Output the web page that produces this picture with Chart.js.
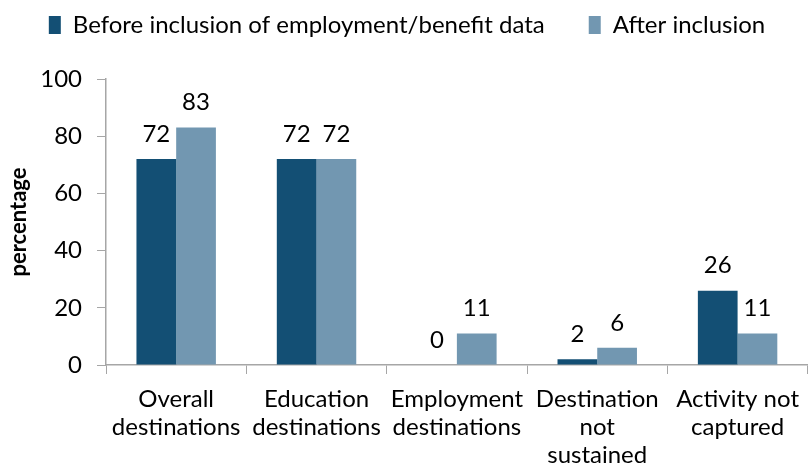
<!DOCTYPE html>
<html>
<head>
<meta charset="utf-8">
<script src="https://cdn.jsdelivr.net/npm/chart.js@4/dist/chart.umd.min.js"></script>
<style>
  html, body { margin: 0; padding: 0; background: #ffffff; }
  #wrap { width: 810px; height: 473px; position: relative; }
</style>
</head>
<body>
<div id="wrap"><canvas id="c"></canvas></div>
<script>
// Destination categories (multi-line labels)
const categories = [
  ["Overall", "destinations"],
  ["Education", "destinations"],
  ["Employment", "destinations"],
  ["Destination", "not", "sustained"],
  ["Activity not", "captured"]
];
const seriesNames = ["Before inclusion of employment/benefit data", "After inclusion"];
const beforeValues = [72, 72, 0, 2, 26];
const afterValues = [83, 72, 11, 6, 11];
const yTicks = [0, 20, 40, 60, 80, 100];

const FONT = "Lato, 'Open Sans', sans-serif";
const AXIS_GREY = "#a6a6a6";

// Draws each bar's value just above its top
const valueLabels = {
  id: "valueLabels",
  afterDatasetsDraw(chart) {
    const ctx = chart.ctx;
    ctx.save();
    ctx.font = "24px " + FONT;
    ctx.fillStyle = "#000000";
    ctx.textAlign = "center";
    ctx.textBaseline = "bottom";
    chart.data.datasets.forEach((ds, i) => {
      chart.getDatasetMeta(i).data.forEach((bar, j) => {
        ctx.fillText(String(ds.data[j]), bar.x, bar.y - 13);
      });
    });
    ctx.restore();
  }
};

// Leaves extra room between the legend and the plot area
const legendSpacing = {
  id: "legendSpacing",
  beforeLayout(chart) {
    const legend = chart.legend;
    if (legend && !legend._spaced) {
      const fit = legend.fit;
      legend.fit = function () {
        fit.call(this);
        this.height += 32;
      };
      legend._spaced = true;
    }
  }
};

new Chart(document.getElementById("c"), {
  type: "bar",
  data: {
    labels: categories,
    datasets: [
      { label: seriesNames[0], data: beforeValues, backgroundColor: "#134f74" },
      { label: seriesNames[1], data: afterValues, backgroundColor: "#7297b1" }
    ]
  },
  options: {
    responsive: true,
    maintainAspectRatio: false,
    animation: false,
    layout: { padding: { top: -31, right: -4, bottom: 0, left: 0 } },
    datasets: { bar: { categoryPercentage: 0.566, barPercentage: 1.0 } },
    plugins: {
      legend: {
        position: "top",
        labels: {
          font: { family: FONT, size: 24 },
          color: "#000000",
          boxWidth: 12,
          boxHeight: 18,
          padding: 44
        }
      },
      tooltip: { enabled: false }
    },
    scales: {
      x: {
        afterFit(scale) { scale.height = 108; },
        grid: {
          offset: true,
          drawOnChartArea: false,
          drawTicks: true,
          tickLength: 9,
          color: AXIS_GREY
        },
        border: { color: AXIS_GREY, width: 1.5 },
        ticks: {
          font: { family: FONT, size: 24, lineHeight: 1.17 },
          color: "#000000",
          maxRotation: 0,
          autoSkip: false,
          padding: 11
        }
      },
      y: {
        min: 0,
        max: 100,
        afterFit(scale) { scale.width = 106; },
        afterBuildTicks(scale) { scale.ticks = yTicks.map(v => ({ value: v })); },
        grid: {
          drawOnChartArea: false,
          drawTicks: true,
          tickLength: 9,
          color: AXIS_GREY
        },
        border: { color: AXIS_GREY, width: 1.5 },
        ticks: {
          font: { family: FONT, size: 24 },
          color: "#000000",
          padding: 15
        },
        title: {
          display: true,
          text: "percentage",
          font: { family: FONT, size: 22, weight: "bold" },
          color: "#000000",
          padding: { top: 6, bottom: 0 }
        }
      }
    }
  },
  plugins: [valueLabels, legendSpacing]
});
</script>
</body>
</html>
